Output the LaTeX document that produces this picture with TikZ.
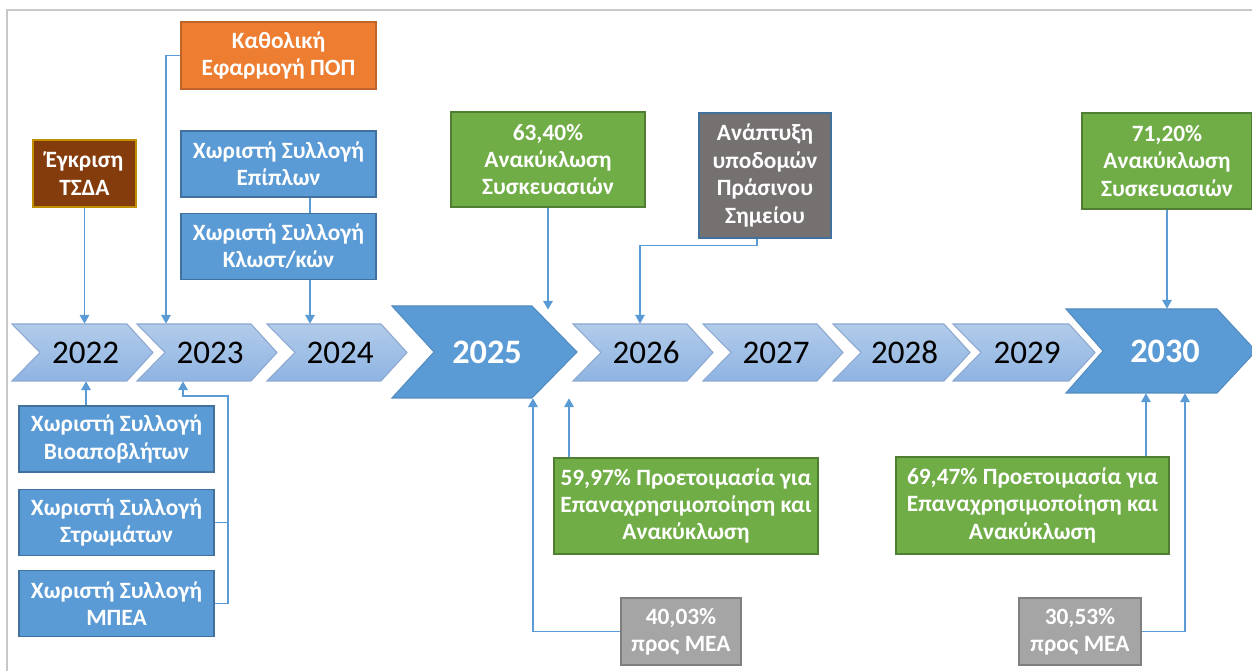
\documentclass[tikz,border=0pt]{standalone}
\usepackage{fontspec}
\setmainfont{Carlito}
\usetikzlibrary{positioning,arrows.meta}
\definecolor{boxblue}{HTML}{5B9BD5}
\definecolor{boxblueedge}{HTML}{41719C}
\definecolor{boxgreen}{HTML}{70AD47}
\definecolor{boxgreenedge}{HTML}{507E32}
\definecolor{boxorange}{HTML}{ED7D31}
\definecolor{boxorangeedge}{HTML}{C0652A}
\definecolor{boxbrown}{HTML}{843C0C}
\definecolor{boxbrownedge}{HTML}{BF9000}
\definecolor{boxdark}{HTML}{767171}
\definecolor{boxgrey}{HTML}{A5A5A5}
\definecolor{boxgreyedge}{HTML}{7F7F7F}
\definecolor{chevtop}{HTML}{B2CBEA}
\definecolor{chevbottom}{HTML}{8EB4E2}
\definecolor{chevedge}{HTML}{8CA8D0}
\definecolor{framegrey}{HTML}{C8C8C8}
\newcommand{\boxfont}{\fontsize{13.3}{15.6}\selectfont\bfseries}
\newcommand{\yearfont}{\fontsize{18.8}{20}\selectfont}
\newcommand{\bigyearfont}{\fontsize{19.5}{21}\selectfont\bfseries}
\tikzset{box/.style={draw, line width=0.8pt, text=white, font=\boxfont, align=center, inner sep=1pt},
    bluebox/.style={box, fill=boxblue, draw=boxblueedge, minimum width=3.9cm, minimum height=1.32cm},
    greenbox/.style={box, fill=boxgreen, draw=boxgreenedge},
    orangebox/.style={box, fill=boxorange, draw=boxorangeedge, minimum width=3.9cm, minimum height=1.34cm},
    brownbox/.style={box, fill=boxbrown, draw=boxbrownedge, minimum width=2.06cm, minimum height=1.34cm},
    darkbox/.style={box, fill=boxdark, draw=boxblueedge, minimum width=2.64cm, minimum height=2.5cm},
    greybox/.style={box, fill=boxgrey, draw=boxgreyedge, minimum width=2.4cm, minimum height=1.34cm},
    yearchev/.style={top color=chevtop, bottom color=chevbottom, draw=chevedge, line width=0.6pt},
    bigchev/.style={fill=boxblue, draw=boxblue!90!black, line width=0.6pt},
    yearlabel/.style={font=\yearfont, minimum height=1.14cm, inner sep=0pt},
    bigyear/.style={font=\bigyearfont, text=white, minimum height=1.84cm, inner sep=0pt},
    link/.style={draw=boxblue, line width=0.7pt},
    conn/.style={link, -{Triangle[length=5pt,width=5.5pt]}}}

\begin{document}
\begin{tikzpicture}[x=0.02cm, y=-0.02cm]
    \useasboundingbox (0,0) rectangle (1252,671);
    \clip (0,0) rectangle (1252,671);
    \draw[framegrey, line width=1.2pt] (7,10) rectangle (1270,690);

    % timeline
    \foreach \yr/\l/\t in {2022/12/153, 2023/137/277, 2024/267/407, 2026/573/713,
                           2027/703/843, 2028/833/970, 2029/953/1095} {
        \draw[yearchev] (\l,324) -- ({\t-26},324) -- (\t,352.5) -- ({\t-26},381)
                        -- (\l,381) -- ({\l+28},352.5) -- cycle;
        \node[yearlabel] (y\yr) at ({(\l+\t)/2+3},352.5) {\yr};
    }
    \draw[bigchev] (392,306) -- (532,306) -- (577,352) -- (532,398) -- (392,398) -- (434,352) -- cycle;
    \node[bigyear] (y2025) at (487,352) {2025};
    \draw[bigchev] (1066,309) -- (1217,309) -- (1256,351) -- (1217,393) -- (1066,393) -- (1103,351) -- cycle;
    \node[bigyear, minimum height=1.68cm] (y2030) at (1165,351) {2030};

    % boxes
    \node[brownbox] (tsda) at (84.5,173.5) {Έγκριση\\ΤΣΔΑ};
    \node[orangebox] (pop) at (278.5,55.5) {Καθολική\\Εφαρμογή ΠΟΠ};
    \node[bluebox] (epiplon) at (278.5,164) {Χωριστή Συλλογή\\Επίπλων};
    \node[bluebox, below=0.3cm of epiplon] (klost) {Χωριστή Συλλογή\\Κλωστ/κών};
    \node[bluebox] (bio) at (116.5,439) {Χωριστή Συλλογή\\Βιοαποβλήτων};
    \node[bluebox, below=0.32cm of bio] (stroma) {Χωριστή Συλλογή\\Στρωμάτων};
    \node[bluebox, below=0.28cm of stroma] (mpea) {Χωριστή Συλλογή\\ΜΠΕΑ};
    \node[greenbox, minimum width=3.88cm, minimum height=1.9cm] (pack25) at (548,159.5)
        {63,40\%\\Ανακύκλωση\\Συσκευασιών};
    \node[darkbox] (prasino) at (765,175.5) {Ανάπτυξη\\υποδομών\\Πράσινου\\Σημείου};
    \node[greenbox, minimum width=5.28cm, minimum height=1.92cm] (prep25) at (686,506)
        {59,97\% Προετοιμασία για\\Επαναχρησιμοποίηση και\\Ανακύκλωση};
    \node[greybox] (mea25) at (681,631.5) {40,03\%\\προς ΜΕΑ};
    \node[greenbox, minimum width=3.4cm, minimum height=1.92cm] (pack30) at (1167,161)
        {71,20\%\\Ανακύκλωση\\Συσκευασιών};
    \node[greenbox, minimum width=5.46cm, minimum height=1.94cm] (prep30) at (1032.5,505.5)
        {69,47\% Προετοιμασία για\\Επαναχρησιμοποίηση και\\Ανακύκλωση};
    \node[greybox, minimum width=2.44cm] (mea30) at (1080,631.5) {30,53\%\\προς ΜΕΑ};

    % connectors
    \draw[conn] (tsda.south) -- (tsda.south |- y2022.north);
    \draw[conn] (pop.west) -| ([xshift=-0.88cm]y2023.north);
    \draw[link] ([xshift=0.63cm]epiplon.south) -- ([xshift=0.63cm]klost.north);
    \draw[conn] ([xshift=0.63cm]klost.south) -- ([xshift=0.63cm]klost.south |- y2024.north);
    \draw[conn] ([xshift=-0.61cm]bio.north) -- ([xshift=-0.61cm]bio.north |- y2022.south);
    \coordinate (bend) at (228,396);
    \draw[conn] (stroma.east) -| (bend) -| ([xshift=-0.54cm]y2023.south);
    \draw[link] (mpea.east) -| (stroma.east -| bend);
    \draw[conn] (pack25.south) -- ([yshift=-0.08cm]pack25.south |- y2025.north);
    \draw[conn] ([xshift=-0.16cm]prasino.south) -- ++(0,7) -| ([xshift=-0.12cm]y2026.north);
    \draw[conn] ([xshift=-2.34cm]prep25.north) -- ([xshift=-2.34cm]prep25.north |- y2025.south);
    \draw[conn] (mea25.west) -| ([xshift=0.92cm]y2025.south);
    \draw[conn] (pack30.south) -- (pack30.south |- y2030.north);
    \draw[conn] ([xshift=2.27cm]prep30.north) -- ([xshift=2.27cm]prep30.north |- y2030.south);
    \draw[conn] (mea30.east) -| ([xshift=0.4cm]y2030.south);
\end{tikzpicture}
\end{document}
